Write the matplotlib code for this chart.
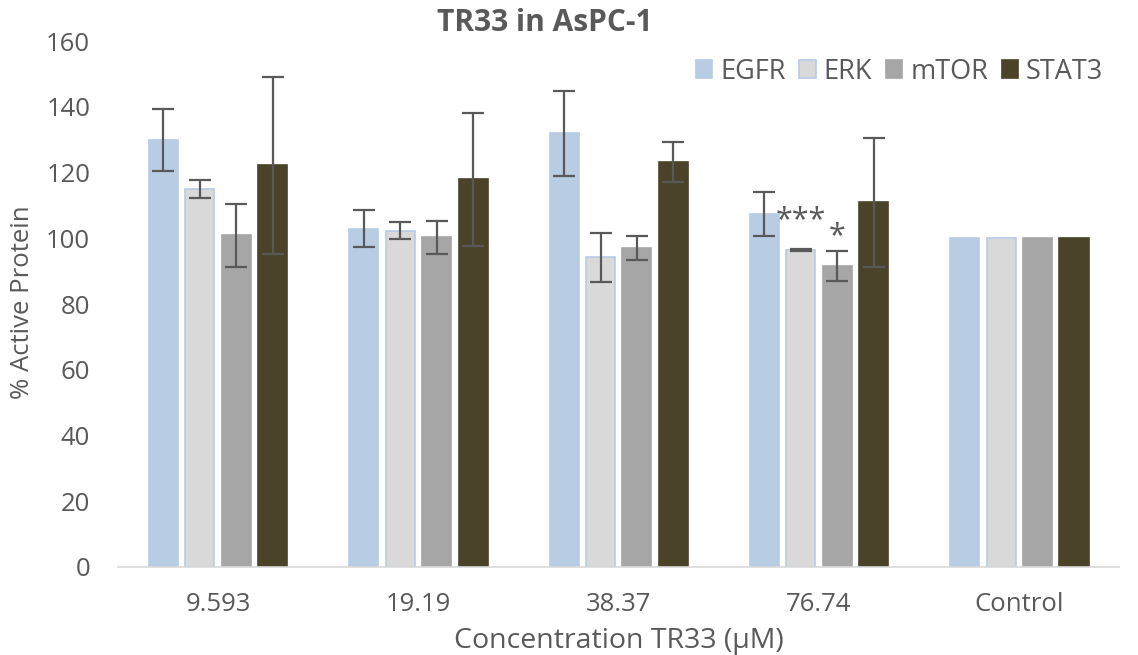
import numpy as np
import matplotlib.pyplot as plt

plt.rcParams['font.family'] = ['Open Sans', 'DejaVu Sans']

groups = ['9.593', '19.19', '38.37', '76.74', 'Control']
series = ['EGFR', 'ERK', 'mTOR', 'STAT3']
egfr = [130.0, 103.0, 132.0, 107.5, 100.0]
erk = [115.0, 102.3, 94.2, 96.6, 100.0]
mtor = [101.0, 100.3, 97.1, 91.6, 100.0]
stat3 = [122.2, 118.0, 123.2, 111.0, 100.0]
egfr_err = [9.5, 5.5, 13.0, 6.7, 0]
erk_err = [2.8, 2.6, 7.5, 0.3, 0]
mtor_err = [9.6, 4.9, 3.7, 4.5, 0]
stat3_err = [27.0, 20.3, 6.1, 19.6, 0]
marks = {(3, 1): '***', (3, 2): '*'}

values = [egfr, erk, mtor, stat3]
errors = [egfr_err, erk_err, mtor_err, stat3_err]
colors = ['#B8CCE4', '#D9D9D9', '#A6A6A6', '#4A4329']
edges = ['#B8CCE4', '#B8CCE4', '#A6A6A6', '#4A4329']
txt = '#595959'

fig = plt.figure(figsize=(11.38, 6.55), dpi=100)
ax = fig.add_axes([0.1037, 0.1344, 0.880, 0.8026])

x = np.arange(len(groups))
step = 0.182
width = 0.145
for i in range(4):
    pos = x + (i - 1.5) * step
    ax.bar(pos, values[i], width, color=colors[i], edgecolor=edges[i],
           linewidth=1.2, label=series[i])
    has = np.array(errors[i]) > 0
    ax.errorbar(pos[has], np.array(values[i])[has], yerr=np.array(errors[i])[has],
                fmt='none', ecolor=txt, elinewidth=1.6, capsize=8, capthick=1.6)

# significance stars above the bars
for (g, s), m in marks.items():
    top = max(values[s][g] + errors[s][g] + 4, values[s][g] + 9)
    ax.text(x[g] + (s - 1.5) * step, top, m, ha='center', va='center',
            fontsize=22, color=txt)

ax.set_xlim(-0.5, 4.5)
ax.set_ylim(0, 160)
ax.set_yticks(range(0, 161, 20))
ax.set_xticks(x)
ax.set_xticklabels(groups)
ax.tick_params(axis='both', length=0, labelsize=18.5, labelcolor=txt)
ax.tick_params(axis='y', pad=20)
ax.tick_params(axis='x', pad=18)
for sp in ['top', 'right', 'left']:
    ax.spines[sp].set_visible(False)
ax.spines['bottom'].set_color('#D9D9D9')
ax.spines['bottom'].set_linewidth(1.2)
ax.set_xlabel('Concentration TR33 (µM)', fontsize=20.5, color=txt, labelpad=7)
fig.text(0.02, 0.539, '% Active Protein', rotation=90, ha='center', va='center',
         fontsize=18.5, color=txt)
fig.text(0.479, 0.965, 'TR33 in AsPC-1', ha='center', va='center',
         fontsize=21.5, fontweight='bold', color=txt)
ax.legend(loc='upper right', bbox_to_anchor=(1.0, 1.0), ncol=4, frameon=False,
          fontsize=19.5, handlelength=0.6, handleheight=0.6, handletextpad=0.3,
          columnspacing=0.5, labelcolor=txt, borderaxespad=0.2)

plt.savefig('out.png', dpi=100)
